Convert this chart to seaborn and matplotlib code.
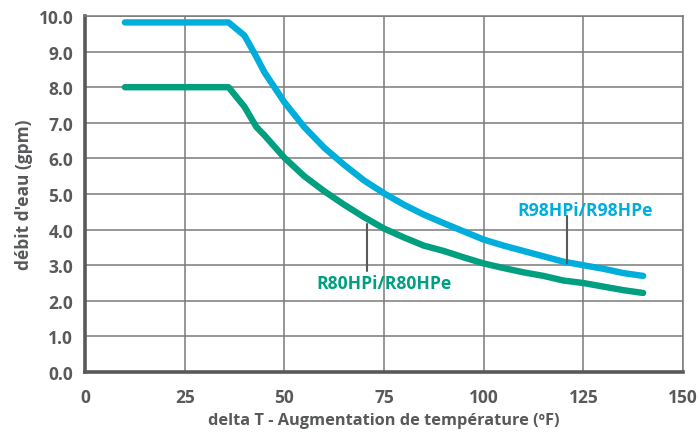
import pandas as pd
import seaborn as sns
import matplotlib
matplotlib.use("Agg")
import matplotlib.pyplot as plt
from matplotlib.ticker import MultipleLocator, FormatStrFormatter

delta_t = [10, 15, 20, 25, 30, 36, 40, 43, 45, 50, 55, 60, 65, 70, 75, 80,
           85, 90, 95, 100, 105, 110, 115, 120, 125, 130, 135, 140]
r98 = [9.82, 9.82, 9.82, 9.82, 9.82, 9.82, 9.45, 8.85, 8.42, 7.58, 6.88, 6.3,
       5.82, 5.38, 5.02, 4.7, 4.42, 4.18, 3.95, 3.72, 3.55, 3.4, 3.25, 3.1,
       3.0, 2.9, 2.78, 2.7]
r80 = [8.0, 8.0, 8.0, 8.0, 8.0, 8.0, 7.45, 6.88, 6.65, 6.02, 5.5, 5.08,
       4.7, 4.35, 4.03, 3.78, 3.55, 3.4, 3.22, 3.05, 2.92, 2.8, 2.7, 2.57,
       2.5, 2.4, 2.3, 2.22]
names = ["R98HPi/R98HPe", "R80HPi/R80HPe"]
colors = {"R98HPi/R98HPe": "#00AEDB", "R80HPi/R80HPe": "#009F80"}

df = pd.concat([
    pd.DataFrame({"dt": delta_t, "q": r98, "model": names[0]}),
    pd.DataFrame({"dt": delta_t, "q": r80, "model": names[1]}),
], ignore_index=True)

sns.set_theme(style="white")
plt.rcParams["font.family"] = ["Open Sans", "DejaVu Sans"]
dark = "#58595B"

fig = plt.figure(figsize=(6.98, 4.35), dpi=100)
ax = fig.add_axes([0.1218, 0.1425, 0.8567, 0.8184])

sns.lineplot(data=df, x="dt", y="q", hue="model", palette=colors,
             linewidth=4.6, legend=False, ax=ax, solid_capstyle="round",
             zorder=3)

ax.set_xlim(0, 150)
ax.set_ylim(0, 10)
ax.xaxis.set_major_locator(MultipleLocator(25))
ax.xaxis.set_minor_locator(MultipleLocator(5))
ax.yaxis.set_major_locator(MultipleLocator(1))
ax.yaxis.set_minor_locator(MultipleLocator(0.1))
ax.yaxis.set_major_formatter(FormatStrFormatter("%.1f"))

ax.grid(True, which="major", color="#7a7a7a", linewidth=1.1, zorder=1)
for side in ["left", "bottom"]:
    ax.spines[side].set_color(dark)
    ax.spines[side].set_linewidth(2.6)
for side in ["top", "right"]:
    ax.spines[side].set_color("#7a7a7a")
    ax.spines[side].set_linewidth(1.1)

ax.tick_params(which="major", direction="inout", length=9, width=2.2,
               color=dark, labelsize=12.5, labelcolor=dark, pad=4)
ax.tick_params(which="minor", direction="in", length=3, width=1.6,
               color=dark)
ax.tick_params(axis="x", which="major", pad=7)
for lab in ax.get_xticklabels() + ax.get_yticklabels():
    lab.set_fontweight("bold")

ax.set_xlabel("delta T - Augmentation de température (ºF)", fontsize=11.8,
              fontweight="bold", color=dark, labelpad=4)
ax.set_ylabel("débit d'eau (gpm)", fontsize=12.5, fontweight="bold",
              color=dark, labelpad=4)

# annotations
ax.plot([121, 121], [3.06, 4.38], color=dark, linewidth=1.5, zorder=4)
ax.text(125.4, 4.55, names[0], color=colors[names[0]], fontsize=12.6,
        fontweight="bold", ha="center", va="center")
ax.plot([70.8, 70.8], [2.85, 4.15], color=dark, linewidth=1.5, zorder=4)
ax.text(75, 2.5, names[1], color=colors[names[1]], fontsize=12.6,
        fontweight="bold", ha="center", va="center")

fig.savefig("out.png", dpi=100)
